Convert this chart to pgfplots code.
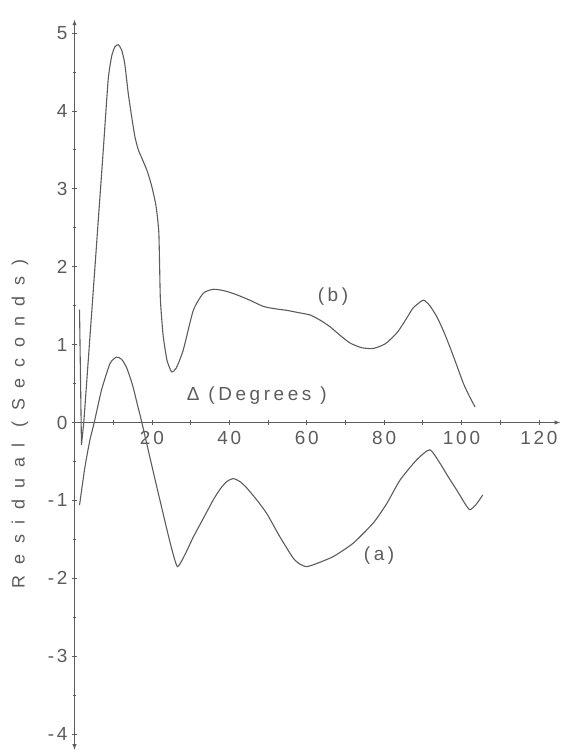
\documentclass[border=0pt]{standalone}
\usepackage{fontspec}
\setmainfont{Liberation Sans}[LetterSpace=15]
\newfontfamily\spaced{Liberation Sans}[LetterSpace=60]
\newfontfamily\midspaced{Liberation Sans}[LetterSpace=19]
\usepackage{pgfplots}
\pgfplotsset{compat=1.18}
\definecolor{ink}{gray}{0.36}
\begin{document}
\begin{tikzpicture}
\begin{axis}[
  x=3.87bp, y=77.9bp,
  axis lines=middle,
  xmin=0, xmax=125.5, ymin=-4.2, ymax=5.17,
  axis line style={ink, line width=0.9pt},
  x axis line style={-latex},
  y axis line style={latex-latex},
  xtick={10,20,...,120},
  xticklabels={,20,,40,,60,,80,,100,,120},
  ytick={-4,...,5},
  minor ytick={-3.5,-2.5,...,4.5},
  hide obscured y ticks=false,
  major tick length=5bp, minor tick length=3bp,
  tick style={ink, line width=0.7pt},
  ticklabel style={font=\fontsize{19}{21}\selectfont, text=ink},
  /pgf/number format/assume math mode=true,
  xticklabel style={yshift=-3bp},
  yticklabel style={xshift=-1bp},
  clip=false,
  cycle list={{ink, line width=1.1pt, no marks}},
]
\coordinate (O) at (axis cs:0,0);
% curve (b): initial spike
\addplot[ink, line width=1.1pt] coordinates {(1.3,1.45) (1.8,-0.29) (2.4,0.0)};
% curve (b)
\addplot[ink, line width=1.1pt, smooth, tension=0.35] coordinates {
(2.4,0.0) (4.86,1.7) (6.15,2.6) (7.44,3.5) (8.7,4.4) (9.6,4.7) (10.4,4.82) (11.3,4.85)
(12.2,4.78) (13.0,4.6) (13.9,4.22) (14.7,3.95) (15.6,3.67) (16.5,3.5) (17.6,3.37) (18.7,3.24)
(19.7,3.08) (20.4,2.94) (21.0,2.8) (21.4,2.65) (21.8,2.43) (22.0,2.0) (22.2,1.57)
(22.9,1.12) (23.9,0.8) (25.1,0.65) (26.3,0.7) (28.1,0.93) (30.7,1.44) (33.3,1.66)
(35.9,1.71) (38.8,1.69) (41.9,1.64) (45.3,1.57) (48.8,1.49) (51.8,1.46) (54.8,1.44)
(57.9,1.41) (60.9,1.38) (63.6,1.31) (66,1.23) (68.6,1.12) (71.2,1.02) (74.2,0.96)
(77.2,0.95) (80.3,1.01) (83.3,1.15) (85.6,1.32) (87.5,1.47) (90.1,1.57) (91.8,1.5)
(93.6,1.36) (95.3,1.18) (97,0.97) (98.8,0.73) (100.5,0.5) (102,0.34) (103.5,0.2)
};
% curve (a)
\addplot[ink, line width=1.1pt, smooth, tension=0.35] coordinates {
(1.3,-1.06) (2.7,-0.57) (4.0,-0.22) (5.1,0.0) (7.0,0.42) (9.2,0.76) (10.9,0.84)
(12.2,0.81) (13.5,0.7) (15.0,0.48) (16.3,0.22) (17.4,0.0) (20.1,-0.58) (22.9,-1.17)
(25.0,-1.6) (26.6,-1.85) (28.5,-1.7) (30.7,-1.47) (33.3,-1.23) (35.9,-0.99) (37.7,-0.85)
(39.3,-0.76) (41.0,-0.72) (42.8,-0.76) (44.5,-0.84) (47.2,-1.0) (49.7,-1.17) (53.1,-1.47)
(56.5,-1.74) (58.3,-1.82) (60.0,-1.85) (62.6,-1.81) (66.9,-1.72) (72,-1.55) (77.2,-1.29)
(80.7,-1.04) (84.1,-0.74) (88.4,-0.48) (91.8,-0.35) (94.4,-0.52) (96.6,-0.7)
(98.8,-0.87) (101.0,-1.05) (102.2,-1.12) (103.8,-1.05) (105.5,-0.93)
};
\node[font=\midspaced\fontsize{19}{21}\selectfont, text=ink] at (axis cs:47.1,0.35) {Δ (Degrees )};
\node[font=\midspaced\fontsize{19}{21}\selectfont, text=ink] at (axis cs:66.8,1.61) {(b)};
\node[font=\midspaced\fontsize{19}{21}\selectfont, text=ink] at (axis cs:78.7,-1.71) {(a)};
\end{axis}
\node[rotate=90, font=\spaced\fontsize{18}{20}\selectfont, text=ink] at ([shift={(-54.5bp,-1.5bp)}]O) {Residual (Seconds)};
\pgfresetboundingbox
\path[use as bounding box] ([shift={(-74.5bp,-333.5bp)}]O) rectangle ([shift={(488.5bp,422.5bp)}]O);
\end{tikzpicture}
\end{document}
